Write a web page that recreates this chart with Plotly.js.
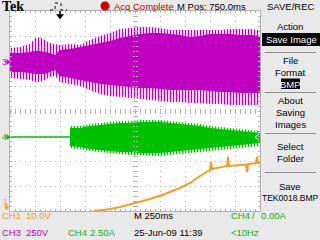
<!DOCTYPE html>
<html><head><meta charset="utf-8">
<script src="https://cdn.plot.ly/plotly-3.0.1.min.js"></script>
<style>html,body{margin:0;padding:0;background:#e9e9e9;overflow:hidden}#plot{width:320px;height:240px}</style>
</head><body><div id="plot"></div>
<script>
// Time in ms (M 250ms/div, M Pos 750.0ms), amplitude in screen divisions
const ch3Time = [-500,-400,-300,-250,-200,-150,-100,-50,0,100,200,300,400,500,600,700,800,900,1000,1100,1200,1300,1400,1500,1600,1700,1800,1900,2000];
const ch3PeakHigh = [2.52,2.56,2.68,2.92,2.96,2.84,2.72,2.68,2.64,2.68,2.64,2.84,3.0,3.12,3.28,3.32,3.36,3.36,3.32,3.24,3.24,3.24,3.24,3.24,3.24,3.28,3.28,3.28,3.24];
const ch3CoreHigh = [2.32,2.32,2.36,2.40,2.40,2.36,2.32,2.24,2.44,2.48,2.56,2.64,2.72,2.80,2.92,3.0,3.08,3.12,3.12,3.08,3.04,2.96,3.0,3.08,3.08,3.08,3.04,3.04,3.0];
const ch3CoreLow = [1.56,1.56,1.52,1.48,1.48,1.48,1.56,1.64,1.40,1.32,1.24,1.16,1.08,1.04,1.0,0.96,0.92,0.92,0.88,0.84,0.84,0.84,0.84,0.80,0.76,0.76,0.72,0.72,0.72];
const ch3PeakLow = [1.32,1.28,1.24,1.16,1.16,1.24,1.36,1.40,1.16,1.08,1.0,0.84,0.68,0.60,0.56,0.52,0.48,0.44,0.40,0.36,0.36,0.32,0.32,0.28,0.28,0.24,0.24,0.24,0.24];

const ch4IdleTime = [-500, 100];
const ch4Idle = [-1.04, -1.04];
const ch4Time = [100,200,300,400,500,600,700,800,900,1000,1100,1200,1300,1400,1500,1600,1700,1800,1900,2000];
const ch4PeakHigh = [-0.60,-0.60,-0.52,-0.48,-0.44,-0.40,-0.40,-0.36,-0.36,-0.36,-0.40,-0.44,-0.48,-0.52,-0.60,-0.64,-0.68,-0.72,-0.76,-0.80];
const ch4CoreHigh = [-0.68,-0.68,-0.60,-0.56,-0.52,-0.48,-0.48,-0.44,-0.44,-0.44,-0.48,-0.52,-0.56,-0.60,-0.68,-0.72,-0.76,-0.80,-0.84,-0.88];
const ch4CoreLow = [-1.40,-1.44,-1.52,-1.56,-1.60,-1.64,-1.64,-1.68,-1.68,-1.68,-1.64,-1.60,-1.56,-1.52,-1.48,-1.44,-1.40,-1.36,-1.32,-1.28];
const ch4PeakLow = [-1.48,-1.52,-1.60,-1.64,-1.68,-1.72,-1.76,-1.76,-1.80,-1.80,-1.76,-1.72,-1.68,-1.64,-1.60,-1.56,-1.52,-1.48,-1.44,-1.40];

const ch1Time = [300,350,500,600,750,900,1050,1200,1300,1400,1500,1510,1520,1600,1670,1680,1690,1800,1860,1870,1880,1960,1970,1980,2000];
const ch1Value = [-4.08,-4.0,-3.92,-3.84,-3.68,-3.52,-3.32,-3.08,-2.88,-2.60,-2.36,-2.04,-2.32,-2.24,-2.20,-1.84,-2.20,-2.16,-2.14,-2.44,-2.13,-2.08,-1.84,-2.08,-2.08];

const PURPLE = '#c000c0', GREEN = '#00c000', ORANGE = '#f0a028';
const TXT_OR = '#e8a030', TXT_GR = '#10b010', TXT_MG = '#c000c0';
const FONT = 'Liberation Sans, Arial, sans-serif';
const FS = 9.5;

function band(t, hi, lo, color, striped) {
  const tr = {
    x: t.concat(t.slice().reverse()),
    y: hi.concat(lo.slice().reverse()),
    type: 'scatter', mode: 'lines', fill: 'toself',
    line: {width: 0, color: color}, fillcolor: color,
    hoverinfo: 'skip', showlegend: false
  };
  if (striped) tr.fillpattern = {shape: '|', size: 3, solidity: 0.45, fgcolor: color, bgcolor: 'rgba(255,255,255,0)', fillmode: 'replace'};
  return tr;
}

const data = [
  band(ch3Time, ch3PeakHigh, ch3PeakLow, PURPLE, true),
  band(ch3Time, ch3CoreHigh, ch3CoreLow, PURPLE, false),
  {x: ch4IdleTime, y: ch4Idle, type: 'scatter', mode: 'lines', line: {color: GREEN, width: 1.5}, hoverinfo: 'skip', showlegend: false},
  band(ch4Time, ch4PeakHigh, ch4PeakLow, GREEN, true),
  band(ch4Time, ch4CoreHigh, ch4CoreLow, GREEN, false),
  {x: ch1Time, y: ch1Value, type: 'scatter', mode: 'lines', line: {color: ORANGE, width: 2}, hoverinfo: 'skip', showlegend: false},
  {x: [null], y: [null], xaxis: 'x2', yaxis: 'y2', type: 'scatter', mode: 'lines', showlegend: false, hoverinfo: 'skip'},
  {x: [null], y: [null], xaxis: 'x3', yaxis: 'y3', type: 'scatter', mode: 'lines', showlegend: false, hoverinfo: 'skip'}
];

const G = '#b0b0b0';
const XR = [-500, 2000], YR = [-4, 4];
function mainAxis(range, tick0, dtick, minorD) {
  return {range: range, tick0: tick0, dtick: dtick, showgrid: true, gridcolor: G, griddash: '1px,4px', gridwidth: 1,
    zeroline: false, showline: true, linecolor: G, linewidth: 1, mirror: 'ticks', ticks: 'inside', ticklen: 2, tickcolor: G,
    showticklabels: false, fixedrange: true,
    minor: {tick0: tick0, dtick: minorD, ticks: 'inside', ticklen: 2, tickcolor: G, showgrid: false}};
}
function centerAxis(range, tick0, dtick, minorD, over, side) {
  return {range: range, tick0: tick0, dtick: dtick, overlaying: over, anchor: 'free', position: 0.5, side: side,
    showgrid: false, zeroline: false, showline: false, ticks: 'outside', ticklen: 2, tickcolor: G,
    showticklabels: false, fixedrange: true,
    minor: {tick0: tick0, dtick: minorD, ticks: 'outside', ticklen: 2, tickcolor: G, showgrid: false}};
}

function px(x) { return (x - 10) / 250; }
function py(y) { return (211 - y) / 200; }
function lab(text, x, y, color, anchor, size, extra) {
  return Object.assign({text: text, xref: 'paper', yref: 'paper', x: px(x), y: py(y), xanchor: anchor || 'left', yanchor: 'middle',
    showarrow: false, borderpad: 0, font: {family: FONT, size: size || FS, color: color || '#000'}}, extra || {});
}
function path(pts, close) {
  return pts.map((p, i) => (i ? 'L' : 'M') + px(p[0]) + ',' + py(p[1])).join(' ') + (close ? ' Z' : '');
}
function pshape(pts, color, close, w, dash) {
  const s = {type: 'path', xref: 'paper', yref: 'paper', path: path(pts, close), line: {color: color, width: w || 1}};
  if (close) s.fillcolor = color;
  if (dash) s.line.dash = dash;
  return s;
}

const annotations = [
  lab('Tek', 1, 6, '#000', 'left', 14, {font: {family: 'Liberation Serif, DejaVu Serif, serif', size: 14, color: '#000', weight: 'bold'}}),
  lab('Acq Complete', 113, 6, '#c00000'),
  lab('M Pos: 750.0ms', 176, 6, '#000'),
  lab('SAVE/REC', 290, 6, '#000', 'center'),
  lab('Action', 290, 27, '#000', 'center'),
  lab('Save Image', 291, 39.5, '#fff', 'center'),
  lab('File', 290, 60.5, '#000', 'center'),
  lab('Format', 290, 72.5, '#000', 'center'),
  lab('BMP', 290.5, 84, '#fff', 'center'),
  lab('About', 290, 100.5, '#000', 'center'),
  lab('Saving', 290, 112.5, '#000', 'center'),
  lab('Images', 290, 124.5, '#000', 'center'),
  lab('Select', 290, 146, '#000', 'center'),
  lab('Folder', 290, 158, '#000', 'center'),
  lab('Save', 290, 186, '#000', 'center'),
  lab('TEK0018.BMP', 290, 197.5, '#000', 'center', 8.5),
  lab('3', 0.5, 62, TXT_MG, 'left', 8.5),
  lab('4', 0.5, 137, TXT_GR, 'left', 8.5),
  lab('1', 1.5, 202, TXT_OR, 'left', 8.5),
  lab('CH1', 1, 216, TXT_OR),
  lab('10.0V', 25, 216, TXT_OR),
  lab('M 250ms', 133, 216, '#000'),
  lab('CH4', 230, 216, TXT_GR),
  lab('/', 250.5, 216, TXT_GR),
  lab('0.00A', 259.5, 216, TXT_GR),
  lab('CH3', 1, 232.5, TXT_MG),
  lab('250V', 25, 232.5, TXT_MG),
  lab('CH4', 67, 232.5, TXT_GR),
  lab('2.50A', 89, 232.5, TXT_GR),
  lab('25-Jun-09 11:39', 133, 232.5, '#000'),
  lab('<10Hz', 230, 232.5, TXT_GR)
];

const shapes = [
  {type: 'circle', xref: 'paper', yref: 'paper', x0: px(100.5), x1: px(109.5), y0: py(10.5), y1: py(1.5), fillcolor: '#cc0000', line: {width: 0}},
  {type: 'rect', xref: 'paper', yref: 'paper', x0: px(262), x1: px(320), y0: py(46), y1: py(33), fillcolor: '#000', line: {width: 0}},
  {type: 'rect', xref: 'paper', yref: 'paper', x0: px(281), x1: px(300), y0: py(89), y1: py(78.5), fillcolor: '#000', line: {width: 0}},
  pshape([[50,10],[55,10],[55,3],[61,3],[61,10],[67,10]], '#000', false, 1, 'dot'),
  pshape([[60,11],[60,15]], '#000', false, 1.5),
  pshape([[56.5,14.5],[63.5,14.5],[60,19]], '#000', true, 0.5),
  // channel ground markers
  pshape([[5,62],[8,62]], TXT_MG, false, 1),
  pshape([[7,59.5],[10,62],[7,64.5]], TXT_MG, true, 0.5),
  pshape([[5,137],[8,137]], TXT_GR, false, 1),
  pshape([[7,134.5],[10,137],[7,139.5]], TXT_GR, true, 0.5),
  pshape([[6.5,203],[6.5,207]], TXT_OR, false, 1),
  pshape([[4.5,206.5],[8.5,206.5],[6.5,210]], TXT_OR, true, 0.5),
  // trigger level marker (right edge, CH4)
  pshape([[259,134],[255,137],[259,140]], '#ffffff', false, 1)
];
[52.5, 92.5, 133.5, 172.5].forEach(y => shapes.push({type: 'line', xref: 'paper', yref: 'paper', x0: px(265), x1: px(316), y0: py(y), y1: py(y), line: {color: '#909090', width: 1}}));

const layout = {
  width: 320, height: 240,
  margin: {l: 10, r: 60, t: 11, b: 29, pad: 0},
  paper_bgcolor: '#e9e9e9', plot_bgcolor: '#ffffff',
  showlegend: false,
  xaxis: mainAxis(XR, -500, 250, 50),
  yaxis: mainAxis(YR, -4, 1, 0.2),
  xaxis2: centerAxis(XR, -500, 250, 50, 'x', 'bottom'),
  yaxis2: centerAxis(YR, -4, 1, 0.2, 'y', 'left'),
  xaxis3: centerAxis(XR, -500, 250, 50, 'x', 'top'),
  yaxis3: centerAxis(YR, -4, 1, 0.2, 'y', 'right'),
  annotations: annotations,
  shapes: shapes
};

Plotly.newPlot('plot', data, layout, {staticPlot: true, displayModeBar: false});
</script></body></html>
